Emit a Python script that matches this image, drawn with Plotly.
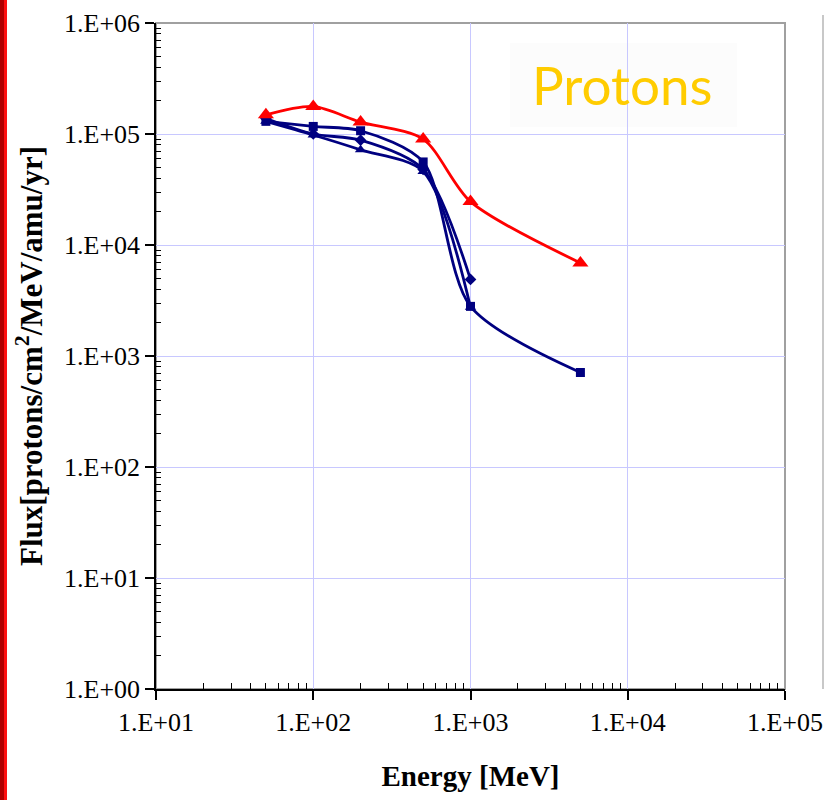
import plotly.graph_objects as go

energy = [50, 100, 200, 500, 1000, 5000]
flux_red = [1.49e5, 1.77e5, 1.28e5, 9.0e4, 2.46e4, 6.9e3]
flux_sq = [1.30e5, 1.17e5, 1.07e5, 5.6e4, 2.8e3, 7.1e2]
energy_short = [50, 100, 200, 500, 1000]
flux_dia = [1.38e5, 1.0e5, 8.8e4, 4.8e4, 4.9e3]
flux_tri = [1.30e5, 9.8e4, 7.2e4, 4.6e4, 2.75e3]

x_tickvals = [1e1, 1e2, 1e3, 1e4, 1e5]
x_ticktext = ["1.E+01", "1.E+02", "1.E+03", "1.E+04", "1.E+05"]
y_tickvals = [1e0, 1e1, 1e2, 1e3, 1e4, 1e5, 1e6]
y_ticktext = ["1.E+00", "1.E+01", "1.E+02", "1.E+03", "1.E+04", "1.E+05", "1.E+06"]
minor_digits = [2, 3, 4, 5, 6, 7, 8, 9]

x_minor = [d * v for v in x_tickvals[:-1] for d in minor_digits]
y_minor = [d * v for v in y_tickvals[:-1] for d in minor_digits]

NAVY = "#000080"
RED = "#FF0000"

fig = go.Figure()
line_kw = dict(shape="spline", smoothing=0.8, width=2.8)
fig.add_trace(go.Scatter(x=energy_short, y=flux_tri, mode="lines+markers",
                         line=dict(color=NAVY, **line_kw),
                         marker=dict(symbol="triangle-up", size=10, color=NAVY)))
fig.add_trace(go.Scatter(x=energy_short, y=flux_dia, mode="lines+markers",
                         line=dict(color=NAVY, **line_kw),
                         marker=dict(symbol="diamond", size=9, color=NAVY)))
fig.add_trace(go.Scatter(x=energy, y=flux_sq, mode="lines+markers",
                         line=dict(color=NAVY, **line_kw),
                         marker=dict(symbol="square", size=9, color=NAVY)))
fig.add_trace(go.Scatter(x=energy, y=flux_red, mode="lines+markers",
                         line=dict(color=RED, **line_kw),
                         marker=dict(symbol="triangle-up", size=14, color=RED)))

serif = "Liberation Serif"
fig.update_xaxes(type="log", range=[1, 5], tickmode="array", tickvals=x_tickvals, ticktext=x_ticktext,
                 showgrid=True, gridcolor="#C8C8FF", gridwidth=1,
                 showline=True, linecolor="black", linewidth=1.5,
                 ticks="outside", ticklen=9, tickcolor="black", tickwidth=1.5,
                 minor=dict(tickmode="array", tickvals=x_minor, ticks="inside", ticklen=6,
                            tickcolor="black", tickwidth=1, showgrid=False),
                 tickfont=dict(family=serif, size=26, color="black"),
                 ticklabeloverflow="allow", automargin=False,
                 title=dict(text="<b>Energy [MeV]</b>", font=dict(family=serif, size=29, color="black"),
                            standoff=30),
                 zeroline=False)
fig.update_yaxes(type="log", range=[0, 6], tickmode="array", tickvals=y_tickvals, ticktext=y_ticktext,
                 showgrid=True, gridcolor="#C8C8FF", gridwidth=1,
                 showline=True, linecolor="black", linewidth=1.5,
                 ticks="outside", ticklen=9, tickcolor="black", tickwidth=1.5,
                 minor=dict(tickmode="array", tickvals=y_minor, ticks="inside", ticklen=5,
                            tickcolor="black", tickwidth=1, showgrid=False),
                 tickfont=dict(family=serif, size=26, color="black"),
                 ticklabeloverflow="allow", automargin=False,
                 title=dict(text="<b>Flux[protons/cm<sup>2</sup>/MeV/amu/yr]</b>",
                            font=dict(family=serif, size=31, color="black"), standoff=12),
                 zeroline=False)

fig.update_layout(
    width=825, height=800,
    margin=dict(l=156, r=40, t=23, b=111),
    paper_bgcolor="white", plot_bgcolor="white",
    showlegend=False,
    shapes=[
        dict(type="rect", xref="paper", yref="paper", x0=0, x1=1, y0=0, y1=1,
             line=dict(color="#A0A0A0", width=2), layer="below"),
        dict(type="rect", xref="paper", yref="paper", x0=(510 - 156) / 629, x1=(737 - 156) / 629,
             y0=(689 - 127) / 666, y1=(689 - 43) / 666,
             fillcolor="#FCFCFC", line=dict(width=0), layer="below"),
        dict(type="line", xref="paper", yref="paper", x0=(823 - 156) / 629, x1=(823 - 156) / 629,
             y0=0, y1=(689 - 15) / 666,
             line=dict(color="#C8C8C8", width=2)),
        dict(type="rect", xref="paper", yref="paper", x0=-156 / 629, x1=-152 / 629,
             y0=-111 / 666, y1=1 + 23 / 666, fillcolor="#B00000", line=dict(width=0)),
        dict(type="rect", xref="paper", yref="paper", x0=-152 / 629, x1=-149 / 629,
             y0=-111 / 666, y1=1 + 23 / 666, fillcolor="#FF1010", line=dict(width=0)),
    ],
    annotations=[
        dict(text="Protons", xref="paper", yref="paper", x=(622 - 156) / 629, y=(689 - 84) / 666,
             xanchor="center", yanchor="middle", showarrow=False,
             font=dict(family="Lato", size=53, color="#FFCC00")),
    ],
)

fig.write_html("out.html")
